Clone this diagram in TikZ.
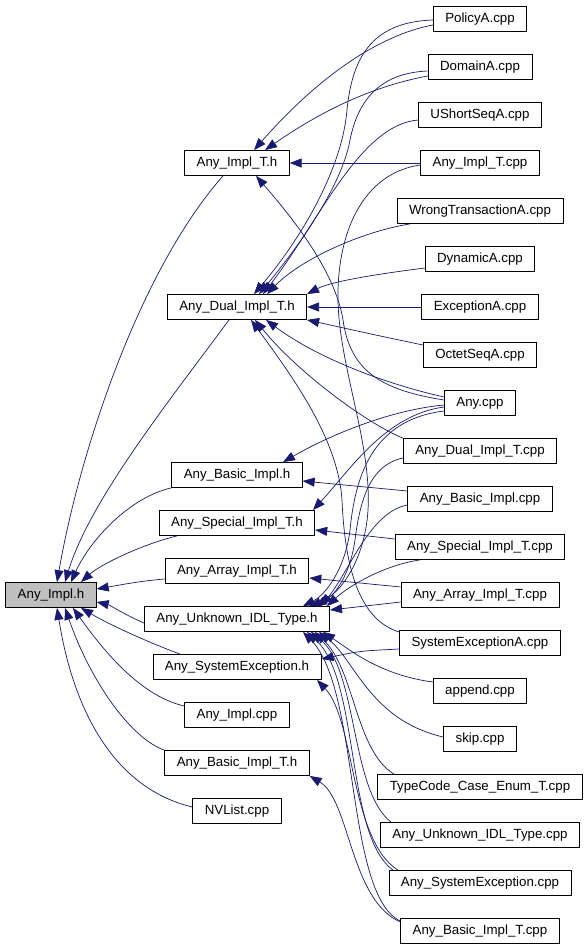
\documentclass[tikz,border=0pt]{standalone}
\usepackage{fontspec}
\setmainfont{Liberation Sans}
\usetikzlibrary{arrows.meta}
\definecolor{edgeblue}{HTML}{191970}
\definecolor{rootgray}{HTML}{BFBFBF}

\begin{document}
\begin{tikzpicture}[x=1pt, y=-1pt,
    file/.style={draw, fill=white, line width=0.8pt, minimum height=25pt,
        inner xsep=12pt, inner ysep=0pt, font=\fontsize{13.3}{15}\selectfont},
    dep/.style={draw=edgeblue, line width=0.7pt, -{Triangle[length=12pt,width=9pt]}}]

\useasboundingbox[fill=white] (0,0) rectangle (587,947);

% --- Root header ---
\node[file, fill=rootgray] (implh) at (51,595) {Any\_Impl.h};

% --- Middle column ---
\foreach \n/\lbl/\y in {
    implTh/Any\_Impl\_T.h/163, dualh/Any\_Dual\_Impl\_T.h/307,
    basich/Any\_Basic\_Impl.h/475, specialh/Any\_Special\_Impl\_T.h/523,
    arrayh/Any\_Array\_Impl\_T.h/571, unknownh/Any\_Unknown\_IDL\_Type.h/619,
    sysexch/Any\_SystemException.h/667, implcpp/Any\_Impl.cpp/715,
    basicTh/Any\_Basic\_Impl\_T.h/763, nvlist/NVList.cpp/811} {
    \node[file] (\n) at (237,\y) {\lbl};
}

% --- Right column ---
\foreach \n/\lbl [count=\i from 0] in {
    policyA/PolicyA.cpp, domainA/DomainA.cpp, ushortseqA/UShortSeqA.cpp,
    implTcpp/Any\_Impl\_T.cpp, wrongtransA/WrongTransactionA.cpp,
    dynamicA/DynamicA.cpp, exceptionA/ExceptionA.cpp, octetseqA/OctetSeqA.cpp,
    anycpp/Any.cpp, dualcpp/Any\_Dual\_Impl\_T.cpp, basiccpp/Any\_Basic\_Impl.cpp,
    specialcpp/Any\_Special\_Impl\_T.cpp, arraycpp/Any\_Array\_Impl\_T.cpp,
    sysexcA/SystemExceptionA.cpp, append/append.cpp, skip/skip.cpp,
    typecodecpp/TypeCode\_Case\_Enum\_T.cpp, unknowncpp/Any\_Unknown\_IDL\_Type.cpp,
    sysexccpp/Any\_SystemException.cpp, basicTcpp/Any\_Basic\_Impl\_T.cpp} {
    \node[file] (\n) at (480,{19+48*\i}) {\lbl};
}

% --- Into Any_Impl.h ---
\draw[dep] ([xshift=-14pt]implTh.south) .. controls (140,270) and (80,450) .. ([xshift=6pt]implh.north);
\draw[dep] ([xshift=-8pt]dualh.south) .. controls (170,400) and (90,500) .. ([xshift=14pt]implh.north);
\draw[dep] (basich.south west) .. controls (130,497) and (90,540) .. ([xshift=20pt]implh.north);
\draw[dep] ([xshift=-60pt]specialh.south) .. controls (140,545) and (100,565) .. ([xshift=30pt]implh.north);
\draw[dep] ([yshift=-8pt]arrayh.west) .. controls (140,581) and (120,585) .. ([yshift=6pt]implh.east);
\draw[dep] ([yshift=-4pt]unknownh.west) .. controls (125,615) and (110,605) .. ([yshift=-7pt]implh.east);
\draw[dep] ([xshift=-57pt]sysexch.north) .. controls (150,643) and (110,625) .. ([xshift=30pt]implh.south);
\draw[dep] ([yshift=9pt]implcpp.west) .. controls (145,697) and (110,660) .. ([xshift=22pt]implh.south);
\draw[dep] (basicTh.north west) .. controls (130,738) and (90,680) .. ([xshift=14pt]implh.south);
\draw[dep] ([yshift=4pt]nvlist.west) .. controls (120,790) and (75,720) .. ([xshift=6pt]implh.south);

% --- Into Any_Impl_T.h ---
\draw[dep] ([yshift=-6pt]policyA.west) .. controls (380,35) and (320,75) .. ([xshift=17pt]implTh.north);
\draw[dep] ([yshift=-9pt]domainA.west) .. controls (380,85) and (330,105) .. ([xshift=28pt]implTh.north);
\draw[dep] (implTcpp.west) -- (implTh.east);
\draw[dep] ([yshift=3pt]anycpp.west) .. controls (380,390) and (350,370) .. (343,320)
    .. controls (335,270) and (290,215) .. ([xshift=19pt]implTh.south);

% --- Into Any_Dual_Impl_T.h ---
\draw[dep] ([yshift=-1pt]policyA.west) .. controls (370,22) and (352,60) .. (347,110)
    .. controls (342,170) and (300,240) .. ([xshift=17pt]dualh.north);
\draw[dep] ([yshift=-4pt]domainA.west) .. controls (380,73) and (358,100) .. (350,140)
    .. controls (342,185) and (300,245) .. ([xshift=22pt]dualh.north);
\draw[dep] ([yshift=-5pt]ushortseqA.west) .. controls (360,125) and (320,220) .. ([xshift=26pt]dualh.north);
\draw[dep] ([xshift=-70pt]wrongtransA.south) .. controls (360,232) and (300,260) .. ([xshift=30pt]dualh.north);
\draw[dep] ([yshift=-9pt]dynamicA.west) .. controls (370,275) and (330,282) .. (dualh.north east);
\draw[dep] (exceptionA.west) -- (dualh.east);
\draw[dep] ([yshift=10pt]octetseqA.west) .. controls (380,336) .. (dualh.south east);
\draw[dep] ([yshift=6pt]anycpp.west) .. controls (390,385) and (320,360) .. ([xshift=29pt]dualh.south);
\draw[dep] (dualcpp.north west) .. controls (370,425) and (300,375) .. ([xshift=18pt]dualh.south);
\draw[dep] ([yshift=11pt]sysexcA.west) .. controls (360,620) and (345,570) .. (342,500)
    .. controls (338,440) and (295,380) .. ([xshift=14pt]dualh.south);

% --- Into Any_Basic_Impl.h, Any_Special_Impl_T.h, Any_Array_Impl_T.h ---
\draw[dep] ([yshift=-2pt]anycpp.west) .. controls (390,410) and (330,435) .. ([xshift=46pt]basich.north);
\draw[dep] ([yshift=8pt]basiccpp.west) -- ([yshift=-6pt]basich.east);
\draw[dep] ([yshift=-4pt]anycpp.west) .. controls (385,415) and (350,470) .. ([xshift=76pt]specialh.north);
\draw[dep] ([yshift=8pt]specialcpp.west) -- ([yshift=-7pt]specialh.east);
\draw[dep] ([yshift=8pt]arraycpp.west) -- ([yshift=-7pt]arrayh.east);

% --- Into Any_Unknown_IDL_Type.h ---
\draw[dep] ([yshift=-8pt]anycpp.west) .. controls (370,420) and (355,480) .. (350,530)
    .. controls (345,570) and (325,595) .. ([xshift=66pt]unknownh.north);
\draw[dep] ([yshift=-2pt]implTcpp.west) .. controls (370,172) and (340,220) .. (338,290)
    .. controls (336,360) and (372,440) .. (368,510)
    .. controls (365,560) and (340,595) .. ([xshift=72pt]unknownh.north);
\draw[dep] ([yshift=-7pt]dualcpp.west) .. controls (370,465) and (360,500) .. (355,540)
    .. controls (350,575) and (335,595) .. ([xshift=78pt]unknownh.north);
\draw[dep] ([yshift=-6pt]basiccpp.west) .. controls (370,512) and (350,570) .. ([xshift=84pt]unknownh.north);
\draw[dep] ([xshift=-60pt]specialcpp.south) .. controls (385,565) and (350,585) .. ([xshift=90pt]unknownh.north);
\draw[dep] ([yshift=-7pt]arraycpp.west) -- ([yshift=9pt]unknownh.east);
\draw[dep] ([yshift=9pt]append.west) .. controls (380,675) and (350,650) .. ([xshift=86pt]unknownh.south);
\draw[dep] ([yshift=2pt]skip.west) .. controls (370,720) and (355,660) .. ([xshift=82pt]unknownh.south);
\draw[dep] ([xshift=-86pt]typecodecpp.north) .. controls (355,750) and (355,670) .. ([xshift=78pt]unknownh.south);
\draw[dep] ([xshift=-89pt]unknowncpp.north) .. controls (350,790) and (358,670) .. ([xshift=74pt]unknownh.south);
\draw[dep] ([xshift=-87pt]sysexccpp.north) .. controls (345,835) and (360,680) .. ([xshift=70pt]unknownh.south);
\draw[dep] ([yshift=10pt]basicTcpp.west) .. controls (345,895) and (360,690) .. ([xshift=66pt]unknownh.south);

% --- Into Any_SystemException.h and Any_Basic_Impl_T.h ---
\draw[dep] ([yshift=-6pt]sysexcA.west) .. controls (360,651) .. ([yshift=8pt]sysexch.east);
\draw[dep] ([xshift=-82pt]sysexccpp.north) .. controls (350,840) and (355,720) .. ([xshift=80pt]sysexch.south);
\draw[dep] ([yshift=9pt]basicTcpp.west) .. controls (350,900) and (350,800) .. (basicTh.south east);

\end{tikzpicture}
\end{document}
